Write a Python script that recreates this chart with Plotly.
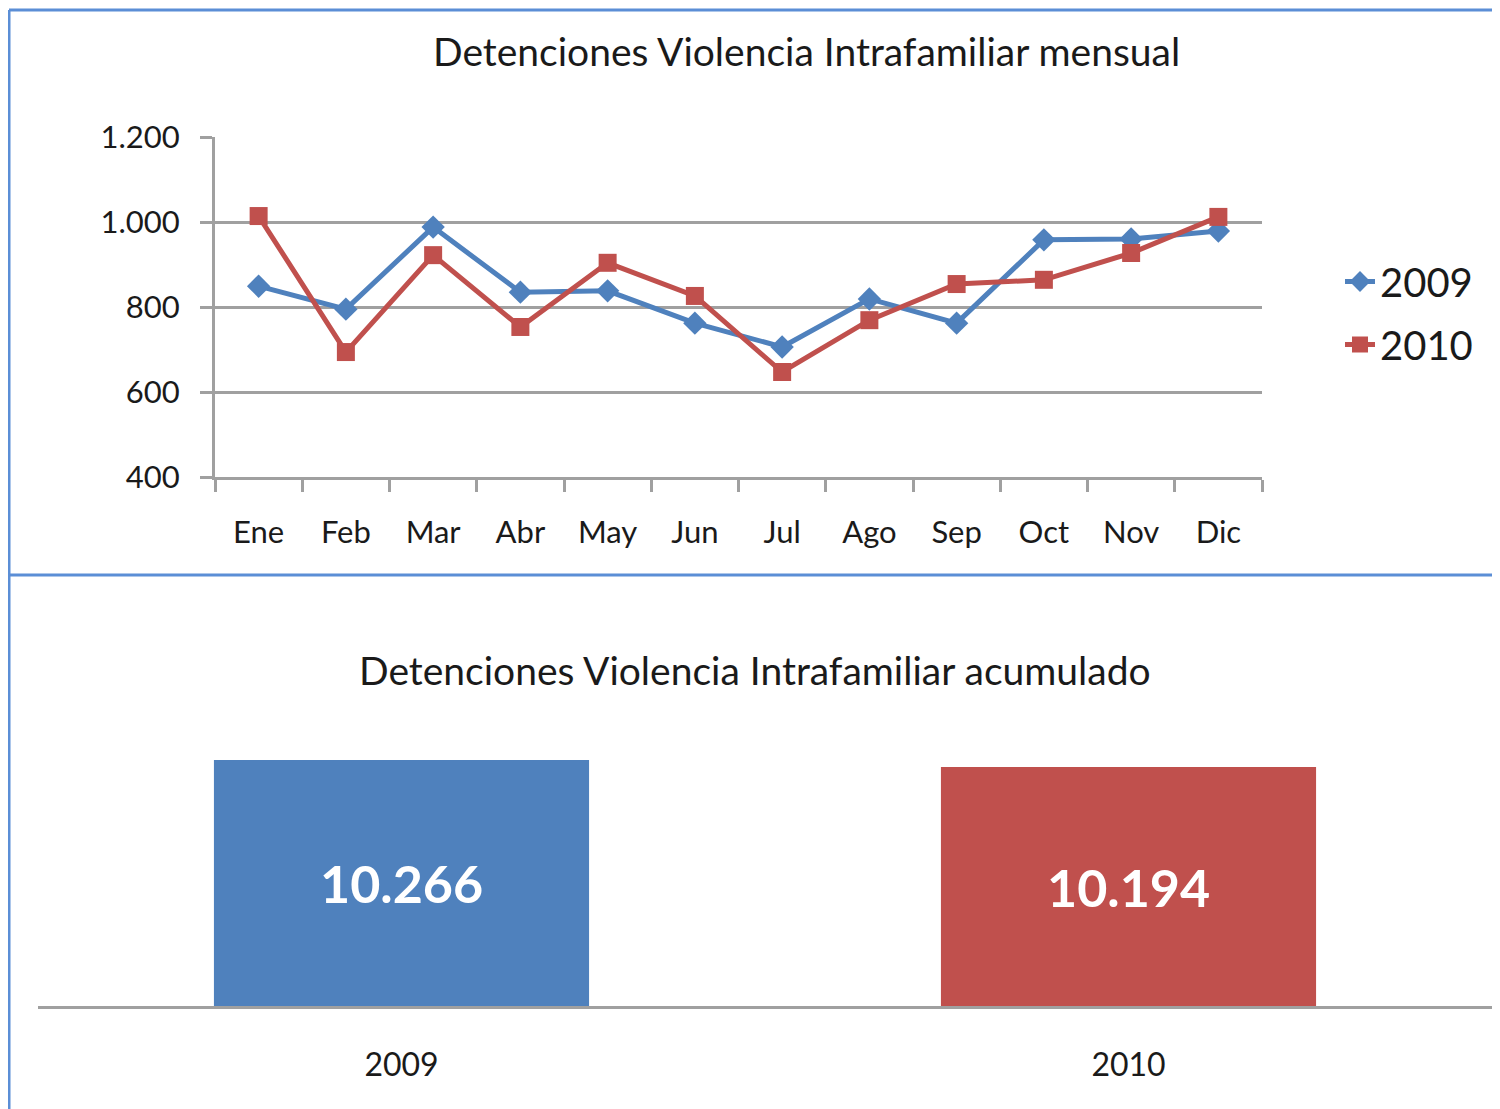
import plotly.graph_objects as go

W, H = 1500, 1109

months = ["Ene", "Feb", "Mar", "Abr", "May", "Jun", "Jul", "Ago", "Sep", "Oct", "Nov", "Dic"]
v2009 = [849, 795, 988, 835, 838, 762, 706, 819, 762, 958, 960, 979]
v2010 = [1014, 694, 922, 753, 904, 826, 647, 769, 854, 864, 927, 1012]

years = ["2009", "2010"]
totals = [10266, 10194]

BLUE = "#4F81BD"
RED = "#C0504D"
GRID = "#A0A0A0"
FRAME = "#5B8ED6"
FONT = "Lato, 'Open Sans', sans-serif"
TXT = "#1a1a1a"

OFF = 8  # page body margin offset


def px_x(p):
    return (p - OFF) / W


def px_y(p):
    return 1 - (p - OFF) / H


def fmt(v):
    return f"{v:,}".replace(",", ".")


fig = go.Figure()

fig.add_trace(go.Scatter(
    x=months, y=v2009, name="2009", mode="lines+markers",
    line=dict(color=BLUE, width=5),
    marker=dict(symbol="diamond", size=18, color=BLUE),
    legendgroup="a", xaxis="x", yaxis="y", cliponaxis=False,
))
fig.add_trace(go.Scatter(
    x=months, y=v2010, name="2010", mode="lines+markers",
    line=dict(color=RED, width=5),
    marker=dict(symbol="square", size=18, color=RED),
    legendgroup="b", xaxis="x", yaxis="y", cliponaxis=False,
))

fig.add_trace(go.Bar(
    x=years, y=totals, marker=dict(color=[BLUE, RED], line=dict(width=0)),
    showlegend=False, xaxis="x2", yaxis="y2",
))

# bar axis range: bottom at px 1006, 10266 -> px 760, 10194 -> px 767
b = 72 / 7.0
ymin2 = 10266 - 246 * b
ymax2 = ymin2 + (1006 - 720) * b

annotations = [
    dict(text="Detenciones Violencia Intrafamiliar mensual",
         x=px_x(806), y=px_y(51), xref="paper", yref="paper",
         xanchor="center", yanchor="middle", showarrow=False,
         font=dict(size=39, family=FONT, color=TXT)),
    dict(text="Detenciones Violencia Intrafamiliar acumulado",
         x=px_x(755), y=px_y(670), xref="paper", yref="paper",
         xanchor="center", yanchor="middle", showarrow=False,
         font=dict(size=39, family=FONT, color=TXT)),
]
for i, tot in enumerate(totals):
    annotations.append(dict(
        text=fmt(tot), x=i, y=(ymin2 + tot) / 2, xref="x2", yref="y2",
        xanchor="center", yanchor="middle", showarrow=False,
        font=dict(size=52, family=FONT, color="white", weight="bold"),
    ))

fig.update_layout(
    width=W, height=H,
    margin=dict(l=0, r=0, t=0, b=0, autoexpand=False),
    paper_bgcolor="white", plot_bgcolor="white",
    separators=",.",
    font=dict(family=FONT, color=TXT, size=31),
    showlegend=True,
    legend=dict(
        x=px_x(1340), y=px_y(249), xanchor="left", yanchor="top",
        font=dict(size=40, family=FONT, color=TXT),
        tracegroupgap=8, traceorder="grouped",
        bgcolor="rgba(0,0,0,0)",
    ),
    xaxis=dict(
        domain=[px_x(215), px_x(1262)], anchor="y", automargin=False,
        type="category", range=[-0.5, len(months) - 0.5],
        tickson="boundaries", ticks="outside",
        ticklen=12, tickwidth=3, tickcolor=GRID,
        showline=True, linecolor=GRID, linewidth=3,
        showgrid=False, tickfont=dict(size=31),
        ticklabelstandoff=26,
    ),
    yaxis=dict(
        domain=[px_y(477), px_y(137)], anchor="x", automargin=False,
        range=[400, 1200], tickvals=[400, 600, 800, 1000, 1200],
        tickformat=",d",
        ticks="outside", ticklen=12, tickwidth=3, tickcolor=GRID,
        showline=True, linecolor=GRID, linewidth=3,
        showgrid=True, gridcolor=GRID, gridwidth=3,
        zeroline=False, tickfont=dict(size=31),
        ticklabelstandoff=14,
    ),
    xaxis2=dict(
        domain=[px_x(38), px_x(1492)], anchor="y2", automargin=False,
        type="category", range=[-0.5, len(years) - 0.5],
        showline=True, linecolor=GRID, linewidth=3,
        ticks="", showgrid=False, tickfont=dict(size=32),
        ticklabelstandoff=29,
    ),
    yaxis2=dict(
        domain=[px_y(1006), px_y(720)], anchor="x2", automargin=False,
        range=[ymin2, ymax2], visible=False, showgrid=False,
    ),
    bargap=0.484,
    annotations=annotations,
    shapes=[
        dict(type="line", xref="paper", yref="paper",
             x0=px_x(9), x1=1, y0=px_y(10), y1=px_y(10),
             line=dict(color=FRAME, width=3)),
        dict(type="line", xref="paper", yref="paper",
             x0=px_x(9), x1=px_x(9), y0=px_y(10), y1=0,
             line=dict(color=FRAME, width=3)),
        dict(type="line", xref="paper", yref="paper",
             x0=px_x(9), x1=1, y0=px_y(575), y1=px_y(575),
             line=dict(color=FRAME, width=3)),
    ],
)

fig.write_html("out.html")
